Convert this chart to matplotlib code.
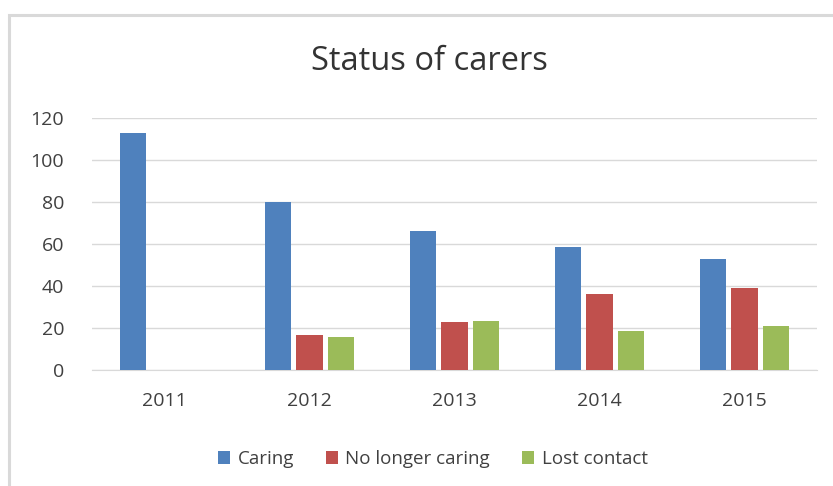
import matplotlib
matplotlib.use("Agg")
import matplotlib.pyplot as plt
import numpy as np
from matplotlib.patches import Rectangle

years = ["2011", "2012", "2013", "2014", "2015"]
caring = [113, 80, 66, 58.5, 53]
no_longer = [0, 16.5, 23, 36, 39]
lost = [0, 15.5, 23.5, 18.5, 21]
series_names = ["Caring", "No longer caring", "Lost contact"]
colors = ["#4f81bd", "#c0504d", "#9bbb59"]
yticks = [0, 20, 40, 60, 80, 100, 120]

plt.rcParams['font.family'] = ['Open Sans', 'DejaVu Sans']

fig = plt.figure(figsize=(8.33, 4.86), dpi=100)
fig.patches.append(Rectangle((9/833, -20/486), 850/833, (486 - 15 + 20)/486,
                             transform=fig.transFigure, fill=False,
                             edgecolor="#d9d9d9", linewidth=2.2))
ax = fig.add_axes([92/833, 1 - 370/486, 725/833, 252/486])

x = np.arange(len(years))
w = 0.18
step = 0.22
for i, (vals, name, c) in enumerate(zip([caring, no_longer, lost], series_names, colors)):
    ax.bar(x + (i - 1) * step, vals, width=w, color=c, label=name, zorder=3)

ax.set_xlim(-0.5, len(years) - 0.5)
ax.set_ylim(0, 120)
ax.set_yticks(yticks)
ax.set_xticks(x)
ax.set_xticklabels(years)
ax.yaxis.grid(True, color="#d9d9d9", linewidth=1, zorder=0)
for s in ["top", "right", "left"]:
    ax.spines[s].set_visible(False)
ax.spines["bottom"].set_color("#d9d9d9")
ax.tick_params(axis="both", length=0, labelsize=14, colors="#404040")
ax.tick_params(axis="x", pad=16)
ax.tick_params(axis="y", pad=20)

fig.text(0.515, 1 - 62/486, "Status of carers", ha="center", va="center",
         fontsize=23.5, color="#333333")

leg = ax.legend(loc="upper center", bbox_to_anchor=(0.47, -0.25), ncol=3, frameon=False,
                fontsize=13.5, handlelength=0.65, handleheight=0.65, columnspacing=1.7,
                handletextpad=0.4)
for t in leg.get_texts():
    t.set_color("#404040")

fig.savefig("out.png", dpi=100)
